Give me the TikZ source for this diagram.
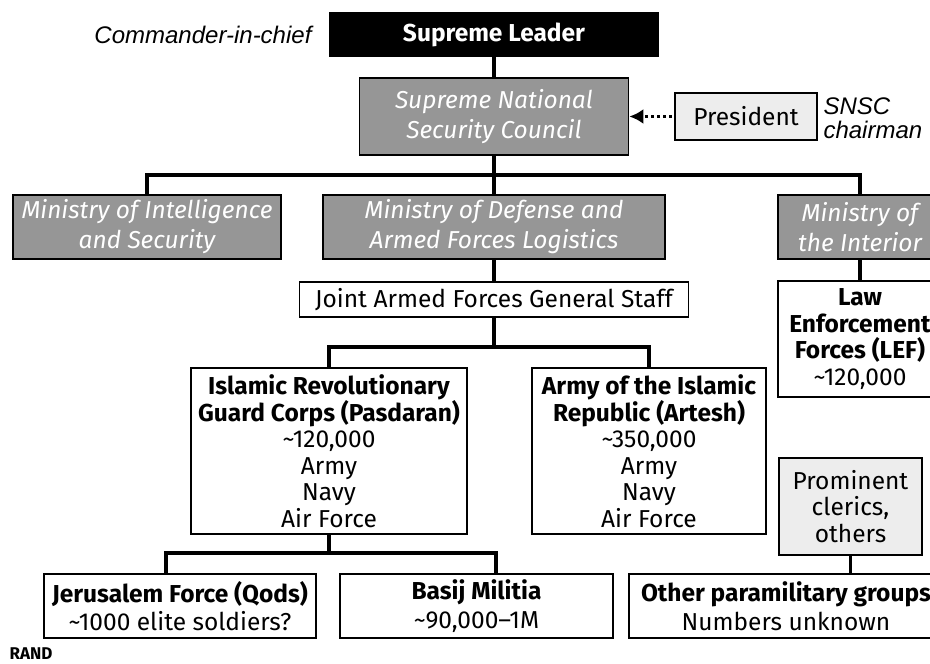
\documentclass[tikz,border=0pt]{standalone}
\usepackage{fontspec}
\setmainfont{Fira Sans}
\newfontfamily\helv{Liberation Sans}
\usetikzlibrary{arrows.meta}
\definecolor{midgray}{gray}{0.59}
\definecolor{paper}{gray}{0.93}

\begin{document}
\begin{tikzpicture}[x=1pt, y=-1pt, font=\fontsize{24.5}{26.5}\selectfont,
		box/.style={draw, line width=1.8pt, fill=white, inner sep=2pt, align=center},
		dark/.style={box, fill=midgray, text=white, font=\fontsize{24.5}{30}\selectfont\itshape},
		light/.style={box, fill=paper},
		wire/.style={line width=3.4pt},
		note/.style={font=\helv\itshape\fontsize{24}{24}\selectfont}]
	\useasboundingbox (0,0) rectangle (930,664);
	%\draw[color=gray!50,dashed,step=50] (0,0) grid (930,664);
	\node[box, fill=black, text=white, font=\fontsize{24.5}{26}\selectfont\bfseries, minimum width=328, minimum height=43] (sl) at (494,34.5) {Supreme Leader};
	\node[note, anchor=east] (cic) at (315,35) {Commander-in-chief};
	\node[dark, minimum width=269, minimum height=77] (snsc) at (494,116.5) {Supreme National\\Security Council};
	\node[light, minimum width=142, minimum height=47] (pres) at (746,116.5) {President};
	\node[note, anchor=west, align=left] (chair) at (820,118) {SNSC\\chairman};
	\node[dark, minimum width=268, minimum height=64] (mois) at (147,227) {Ministry of Intelligence\\and Security};
	\node[dark, minimum width=342, minimum height=64] (mod) at (494,227) {Ministry of Defense and\\Armed Forces Logistics};
	\node[dark, minimum width=164, minimum height=64] (moi) at (860,227) {Ministry of\\the Interior};
	\node[box, minimum width=389, minimum height=35] (jafgs) at (494,299.5) {Joint Armed Forces General Staff};
	\node[box, minimum width=164, minimum height=116] (lef) at (860,339) {\textbf{Law}\\\textbf{Enforcement}\\\textbf{Forces (LEF)}\\\textasciitilde120,000};
	\node[box, minimum width=276, minimum height=166] (irgc) at (329,451) {\textbf{Islamic Revolutionary}\\\textbf{Guard Corps (Pasdaran)}\\\textasciitilde120,000\\Army\\Navy\\Air Force};
	\node[box, minimum width=234, minimum height=166] (artesh) at (649,451) {\textbf{Army of the Islamic}\\\textbf{Republic (Artesh)}\\\textasciitilde350,000\\Army\\Navy\\Air Force};
	\node[light, minimum width=143, minimum height=97] (cler) at (850.5,506.5) {Prominent\\clerics,\\others};
	\node[box, minimum width=272, minimum height=64, font=\fontsize{24.5}{28.5}\selectfont] (qods) at (180,606) {\textbf{Jerusalem Force (Qods)}\\\textasciitilde1000 elite soldiers?};
	\node[box, minimum width=273, minimum height=64, font=\fontsize{24.5}{28.5}\selectfont] (basij) at (476.5,606) {\textbf{Basij Militia}\\\textasciitilde90,000--1M};
	\node[box, minimum width=314, minimum height=64, font=\fontsize{24.5}{28.5}\selectfont] (other) at (786,606) {\textbf{Other paramilitary groups}\\Numbers unknown};
	\node[anchor=west, font=\fontsize{17}{18}\selectfont\bfseries] (rand) at (6,654) {RAND};
	% connectors
	\coordinate (top) at (0,175);
	\coordinate (mid) at (0,347);
	\coordinate (lowL) at (166,553);
	\coordinate (lowR) at (496,553);
	\draw[wire] (sl) -- (snsc);
	\draw[wire] (snsc) -- (mod);
	\draw[wire] (mois.north) -- (mois.north |- top) -- (moi.north |- top) -- (moi.north);
	\draw[wire] (moi) -- (lef);
	\draw[wire] (mod) -- (jafgs);
	\draw[wire] (jafgs) -- (jafgs.south |- mid);
	\draw[wire] (irgc.north) -- (irgc.north |- mid) -| (artesh.north);
	\draw[wire] (irgc) -- (irgc.south |- lowL);
	\draw[wire] (qods.north -| lowL) -- (lowL) -- (lowR) -- (basij.north -| lowR);
	\draw[wire] (cler) -- (cler.south |- other.north);
	\draw[line width=3pt, dash pattern=on 3pt off 3pt, shorten <=2pt, -{Latex[length=14pt,width=15pt]}] (pres) -- (snsc);
\end{tikzpicture}
\end{document}
